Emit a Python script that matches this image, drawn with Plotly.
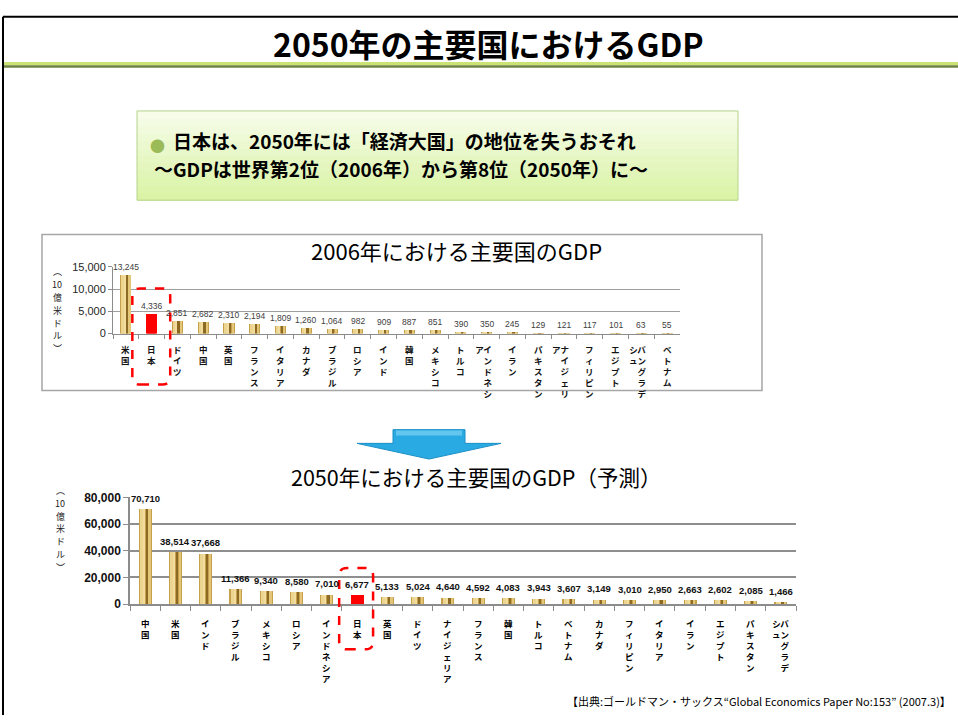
import plotly.graph_objects as go

W, H = 958, 722

# ---------------- data ----------------
# "|" marks where a vertical label wraps into a second (left) column
labels06 = ["米国", "日本", "ドイツ", "中国", "英国", "フランス", "イタリア", "カナダ", "ブラジル",
            "ロシア", "インド", "韓国", "メキシコ", "トルコ", "インドネシ|ア", "イラン", "パキスタン",
            "ナイジェリ|ア", "フィリピン", "エジプト", "バングラデ|シュ", "ベトナム"]
gdp06 = [13245, 4336, 2851, 2682, 2310, 2194, 1809, 1260, 1064, 982, 909, 887, 851,
         390, 350, 245, 129, 121, 117, 101, 63, 55]

labels50 = ["中国", "米国", "インド", "ブラジル", "メキシコ", "ロシア", "インドネシア", "日本", "英国",
            "ドイツ", "ナイジェリア", "フランス", "韓国", "トルコ", "ベトナム", "カナダ", "フィリピン",
            "イタリア", "イラン", "エジプト", "パキスタン", "バングラデ|シュ"]
gdp50 = [70710, 38514, 37668, 11366, 9340, 8580, 7010, 6677, 5133, 5024, 4640, 4592,
         4083, 3943, 3607, 3149, 3010, 2950, 2663, 2602, 2085, 1466]

yticks06 = [0, 5000, 10000, 15000]
yticks50 = [0, 20000, 40000, 60000, 80000]
ytitle_parts = ["︵", "10", "億", "米", "ド", "ル", "︶"]
highlight = "日本"

cats06 = [l.replace("|", "") for l in labels06]
cats50 = [l.replace("|", "") for l in labels50]

# ---------------- helpers ----------------
def px(x):
    return x / W


def py(y):
    return 1 - y / H


JP = "Noto Sans CJK JP"
SANS = "Liberation Sans, Arial, sans-serif"
RED = "#FF0000"
IDSP = "\u3000"

# stripes emulate the gold gradient bars: (offset, width, colour)
stripes = [(-0.215, 0.43, "#C7A04C"), (-0.175, 0.10, "#ECD491"), (-0.06, 0.05, "#F2DD9E"),
           (0.02, 0.07, "#8D6A24"), (0.12, 0.06, "#E3C678")]

fig = go.Figure()

for cats, vals, xa, ya in [(cats06, gdp06, "x", "y"), (cats50, gdp50, "x2", "y2")]:
    for off, wid, col in stripes:
        fig.add_trace(go.Bar(
            x=cats, y=vals, offset=off, width=wid,
            marker=dict(color=[RED if c == highlight else col for c in cats], line=dict(width=0)),
            xaxis=xa, yaxis=ya, hoverinfo="skip", showlegend=False))

annotations = []

# data labels
for cats, vals, xa, ya, shift, font in [
        (cats06, gdp06, "x", "y", 8, dict(family=SANS, size=8.5, color="#404040")),
        (cats50, gdp50, "x2", "y2", 11, dict(family=SANS, size=9.5, color="#111111", weight="bold"))]:
    for c, v in zip(cats, vals):
        annotations.append(dict(x=c, y=v, xref=xa, yref=ya, text=f"{v:,}", showarrow=False,
                                yshift=shift, font=font, xanchor="center", yanchor="middle"))


# vertical category labels: one text per label, one character per row,
# a wrapped part forms a second column on the left
def vertical_text(lab):
    cols = lab.split("|")
    if len(cols) == 1:
        return "<br>".join(cols[0])
    main, wrap = cols
    rows = []
    for k, ch in enumerate(main):
        rows.append((wrap[k] if k < len(wrap) else IDSP) + ch)
    return "<br>".join(rows)


def vertical_labels(labels, xa, axis_y, start, font, dx_wrapped):
    for lab in labels:
        cat = lab.replace("|", "")
        annotations.append(dict(
            x=cat, y=py(axis_y), xref=xa, yref="paper", text=vertical_text(lab), showarrow=False,
            xshift=dx_wrapped if "|" in lab else 0, yshift=-start, font=font,
            xanchor="center", yanchor="top", align="center", borderpad=0))


vertical_labels(labels06, "x", 333, 8, dict(family=JP, size=8.5, color="#111", weight="bold"), -3)
vertical_labels(labels50, "x2", 609, 12, dict(family=JP, size=8.5, color="#000", weight="bold"), 0)


# vertical axis titles, one piece per row
def vertical_title(x, y_first, step, size):
    for k, part in enumerate(ytitle_parts):
        annotations.append(dict(x=px(x), y=py(y_first + k * step), xref="paper", yref="paper",
                                text=part, showarrow=False, borderpad=0,
                                font=dict(family=JP, size=size, color="#222"),
                                xanchor="center", yanchor="middle"))


vertical_title(57, 270, 13.1, 9)
vertical_title(60, 493, 13.1, 9)

# texts
annotations += [
    dict(x=px(488), y=py(37), xref="paper", yref="paper", showarrow=False, xanchor="center",
         yanchor="middle", text="2050年の主要国におけるGDP",
         font=dict(family=JP, size=32, color="#000", weight="bold")),
    dict(x=px(157), y=py(141), xref="paper", yref="paper", showarrow=False, xanchor="center",
         yanchor="middle", text="●", font=dict(family=JP, size=15, color="#9BBB59")),
    dict(x=px(172), y=py(136.5), xref="paper", yref="paper", showarrow=False, xanchor="left",
         yanchor="middle", text="日本は、2050年には「経済大国」の地位を失うおそれ", borderpad=0,
         font=dict(family=JP, size=19, color="#000", weight="bold")),
    dict(x=px(153), y=py(164.5), xref="paper", yref="paper", showarrow=False, xanchor="left",
         yanchor="middle", text="～GDPは世界第2位（2006年）から第8位（2050年）に～", borderpad=0,
         font=dict(family=JP, size=19, color="#000", weight="bold")),
    dict(x=px(456), y=py(248), xref="paper", yref="paper", showarrow=False, xanchor="center",
         yanchor="middle", text="2006年における主要国のGDP", font=dict(family=JP, size=22, color="#000")),
    dict(x=px(476), y=py(479), xref="paper", yref="paper", showarrow=False, xanchor="center",
         yanchor="middle", text="2050年における主要国のGDP（予測）",
         font=dict(family=JP, size=21.5, color="#000")),
    dict(x=px(953), y=py(708), xref="paper", yref="paper", showarrow=False, xanchor="right",
         yanchor="middle",
         text="【出典:ゴールドマン・サックス“Global Economics Paper No:153” (2007.3)】",
         font=dict(family=JP, size=11, color="#000")),
]


def rounded(x0, x1, y0, y1, rx, ry):
    return (f"M{x0 + rx},{y0} L{x1 - rx},{y0} Q{x1},{y0} {x1},{y0 + ry} "
            f"L{x1},{y1 - ry} Q{x1},{y1} {x1 - rx},{y1} L{x0 + rx},{y1} "
            f"Q{x0},{y1} {x0},{y1 - ry} L{x0},{y0 + ry} Q{x0},{y0} {x0 + rx},{y0} Z")


j06 = cats06.index(highlight)
j50 = cats50.index(highlight)

shapes = [
    # slide frame
    dict(type="line", xref="paper", yref="paper", x0=px(3), x1=px(3), y0=py(10), y1=0,
         line=dict(color="#000", width=2)),
    dict(type="line", xref="paper", yref="paper", x0=px(3), x1=1, y0=py(10), y1=py(10),
         line=dict(color="#000", width=2)),
    # title underline
    dict(type="rect", xref="paper", yref="paper", x0=px(4), x1=1, y0=py(59.5), y1=py(56),
         fillcolor="#CBE274", line=dict(width=0)),
    dict(type="rect", xref="paper", yref="paper", x0=px(4), x1=1, y0=py(62), y1=py(59.5),
         fillcolor="#6F8442", line=dict(width=0)),
]

# green message box with a soft vertical gradient
box_top, box_bot, nb = 106, 197, 12
c_top, c_bot = (0xF6, 0xFC, 0xE8), (0xDA, 0xF3, 0xA6)
for i in range(nb):
    t = i / (nb - 1)
    col = "#%02X%02X%02X" % tuple(round(a + (b - a) * t) for a, b in zip(c_top, c_bot))
    y0 = box_top + (box_bot - box_top) * i / nb
    y1 = box_top + (box_bot - box_top) * (i + 1) / nb
    shapes.append(dict(type="rect", xref="paper", yref="paper", x0=px(137), x1=px(738),
                       y0=py(y0), y1=py(y1 + 0.5), fillcolor=col, line=dict(width=0), layer="below"))
shapes += [
    dict(type="rect", xref="paper", yref="paper", x0=px(137), x1=px(738), y0=py(box_top), y1=py(box_bot),
         fillcolor="rgba(0,0,0,0)", line=dict(color="#B5D48A", width=1)),
    # chart 1 frame
    dict(type="rect", xref="paper", yref="paper", x0=px(42), x1=px(762), y0=py(232), y1=py(391),
         line=dict(color="#A6A6A6", width=1.5)),
    # arrow
    dict(type="path", xref="paper", yref="paper",
         path=(f"M{px(393)},{py(431)} L{px(465)},{py(431)} L{px(465)},{py(445)} L{px(501)},{py(445)} "
               f"L{px(429)},{py(461)} L{px(357)},{py(445)} L{px(393)},{py(445)} Z"),
         fillcolor="#2AAAE2", line=dict(color="#1B8FC6", width=1)),
    dict(type="rect", xref="paper", yref="paper", x0=px(396), x1=px(462), y0=py(432), y1=py(437),
         fillcolor="#62C6EF", line=dict(width=0)),
    # red dashed highlight boxes around Japan
    dict(type="path", xref="x", yref="paper",
         path=rounded(j06 - 0.75, j06 + 0.72, py(385), py(287), 0.3, 8 / H),
         line=dict(color=RED, width=2.5, dash="dash")),
    dict(type="path", xref="x2", yref="paper",
         path=rounded(j50 - 0.59, j50 + 0.53, py(655), py(572), 0.25, 8 / H),
         line=dict(color=RED, width=2.5, dash="dash")),
]

axis_common = dict(fixedrange=True)
fig.update_layout(
    width=W, height=H, autosize=False,
    margin=dict(l=0, r=0, t=0, b=0),
    paper_bgcolor="white", plot_bgcolor="white",
    barmode="overlay", bargap=0,
    xaxis=dict(domain=[px(113), px(680)], anchor="y", type="category", categoryorder="array",
               categoryarray=cats06, range=[-0.5, len(cats06) - 0.5], showgrid=False,
               showline=True, linecolor="#8C8C8C", linewidth=1, ticks="outside",
               tickson="boundaries", ticklen=4, tickcolor="#8C8C8C", showticklabels=False, **axis_common),
    yaxis=dict(domain=[py(333), py(265)], anchor="x", range=[0, 15000], tickvals=yticks06,
               tickformat=",", showgrid=True, gridcolor="#9E9E9E", gridwidth=1, zeroline=False,
               showline=True, linecolor="#8C8C8C", linewidth=1, ticks="outside", ticklen=4,
               tickcolor="#8C8C8C", tickfont=dict(family=SANS, size=11, color="#262626"),
               **axis_common),
    xaxis2=dict(domain=[px(130), px(796)], anchor="y2", type="category", categoryorder="array",
                categoryarray=cats50, range=[-0.5, len(cats50) - 0.5], showgrid=False,
                showline=True, linecolor="#8C8C8C", linewidth=1.5, ticks="outside",
                tickson="boundaries", ticklen=5, tickcolor="#8C8C8C", showticklabels=False, **axis_common),
    yaxis2=dict(domain=[py(609), py(500)], anchor="x2", range=[0, 80000], tickvals=yticks50,
                tickformat=",", showgrid=True, gridcolor="#8E8E8E", gridwidth=1.5, zeroline=False,
                showline=True, linecolor="#8C8C8C", linewidth=1.5, ticks="outside", ticklen=5,
                tickcolor="#8C8C8C", tickfont=dict(family=SANS, size=12, color="#111", weight="bold"),
                **axis_common),
    annotations=annotations,
    shapes=shapes,
)

fig.write_html("out.html", config={"displayModeBar": False},
               post_script="document.documentElement.style.margin='0';"
                           "document.documentElement.style.overflow='hidden';"
                           "document.body.style.margin='0';document.body.style.padding='0';"
                           "document.body.style.overflow='hidden';")
